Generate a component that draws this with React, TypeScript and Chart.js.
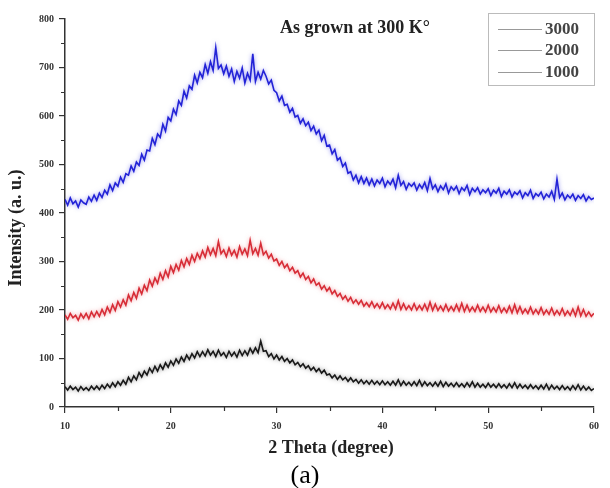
import React, { useEffect, useRef } from "react";
import { Chart, registerables } from "chart.js";

Chart.register(...registerables);

// 2-theta scan: 10° to 60° sampled every 0.25°
const THETA_START = 10;
const THETA_STEP = 0.25;

const SERIES_LABELS = ["3000", "2000", "1000"];
const SERIES_COLORS = ["rgb(35,35,215)", "rgb(215,45,55)", "rgb(25,25,25)"];
const SERIES_HALOS = ["rgba(60,60,230,0.55)", "rgba(230,80,90,0.55)", "rgba(60,60,60,0.5)"];

// 3000 (blue)
const I3000 = [
  428, 416, 431, 419, 425, 412, 427, 421, 418, 433, 424, 437, 426, 441, 432, 447,
  439, 458, 446, 462, 455, 474, 463, 481, 478, 497, 486, 505, 498, 521, 509, 530,
  528, 554, 541, 563, 556, 583, 569, 597, 590, 614, 603, 631, 622, 651, 637, 662,
  655, 684, 668, 690, 679, 706, 688, 712, 694, 741, 698, 705, 687, 703, 682, 697,
  671, 692, 678, 699, 668, 688, 674, 728, 671, 690, 676, 694, 682, 666, 674, 653,
  648, 631, 641, 622, 624, 608, 616, 598, 601, 585, 594, 580, 587, 570, 579, 563,
  571, 549, 560, 538, 540, 522, 531, 509, 514, 496, 503, 482, 485, 468, 478, 462,
  475, 461, 472, 458, 470, 456, 468, 461, 472, 454, 466, 459, 470, 452, 478, 457,
  465, 449, 461, 455, 462, 447, 459, 451, 463, 446, 471, 450, 458, 444, 456, 448,
  460, 441, 454, 447, 455, 440, 452, 446, 457, 438, 451, 444, 452, 439, 448, 442,
  450, 436, 447, 441, 451, 434, 445, 439, 448, 433, 443, 438, 446, 431, 442, 436,
  447, 430, 440, 435, 443, 429, 439, 433, 445, 428, 470, 432, 441, 427, 437, 431,
  439, 426, 436, 430, 438, 425, 434, 428, 431,
];

// 2000 (red)
const I2000 = [
  190, 181, 193, 184, 189, 179, 192, 183, 193, 182, 196, 186, 197, 187, 201, 190,
  206, 195, 211, 199, 217, 206, 221, 210, 231, 219, 236, 224, 245, 233, 251, 240,
  262, 249, 266, 255, 276, 263, 281, 268, 290, 277, 294, 282, 302, 289, 306, 294,
  313, 300, 317, 306, 322, 309, 329, 314, 327, 312, 341, 316, 324, 310, 328, 313,
  323, 309, 331, 315, 326, 312, 344, 316, 327, 313, 338, 314, 321, 307, 315, 301,
  305, 292, 300, 287, 294, 281, 288, 276, 281, 268, 276, 263, 269, 256, 264, 251,
  256, 243, 250, 239, 246, 233, 240, 228, 234, 222, 229, 218, 226, 214, 221, 212,
  220, 208, 215, 207, 217, 205, 213, 204, 215, 203, 211, 202, 214, 202, 219, 201,
  213, 201, 209, 200, 213, 200, 209, 200, 212, 199, 216, 199, 212, 199, 208, 198,
  211, 198, 207, 198, 211, 198, 214, 197, 210, 197, 206, 197, 210, 197, 206, 196,
  210, 196, 205, 196, 209, 195, 204, 195, 208, 194, 211, 194, 207, 193, 202, 193,
  206, 192, 201, 192, 205, 191, 200, 191, 204, 190, 199, 190, 203, 189, 198, 189,
  202, 188, 206, 188, 201, 187, 196, 187, 193,
];

// 1000 (black)
const I1000 = [
  42, 35, 43, 36, 41, 33, 42, 35, 40, 34, 43, 36, 43, 36, 45, 38,
  47, 40, 50, 42, 52, 45, 55, 47, 61, 52, 64, 56, 71, 62, 74, 66,
  80, 71, 84, 74, 87, 78, 91, 82, 95, 86, 99, 90, 103, 94, 107, 98,
  110, 101, 114, 104, 114, 105, 118, 107, 115, 104, 117, 106, 112, 102, 115, 105,
  113, 103, 117, 106, 116, 107, 121, 111, 122, 112, 136, 115, 116, 104, 110, 99,
  107, 97, 104, 94, 100, 91, 97, 87, 92, 83, 89, 80, 85, 76, 82, 73,
  79, 70, 76, 66, 68, 60, 66, 57, 64, 56, 61, 53, 60, 52, 57, 49,
  56, 48, 54, 47, 55, 47, 53, 46, 54, 46, 52, 45, 53, 45, 56, 44,
  53, 45, 51, 44, 52, 44, 55, 43, 52, 44, 50, 43, 51, 43, 53, 42,
  51, 43, 49, 42, 50, 42, 48, 41, 50, 42, 52, 41, 49, 41, 47, 40,
  49, 41, 47, 40, 48, 40, 46, 39, 48, 40, 50, 39, 47, 39, 45, 38,
  46, 38, 44, 37, 45, 37, 47, 36, 45, 37, 43, 36, 44, 36, 42, 35,
  44, 36, 46, 35, 43, 35, 41, 34, 38,
];

const X_MINOR = [15, 25, 35, 45, 55];
const Y_MINOR = [50, 150, 250, 350, 450, 550, 650, 750];

const ANNOTATION = "As grown at 300 K°";
const X_TITLE = "2 Theta (degree)";
const Y_TITLE = "Intensity (a. u.)";
const PANEL_LABEL = "(a)";

const SERIF = "'Liberation Serif', 'Times New Roman', serif";

function toPoints(values: number[]) {
  return values.map((v, i) => ({ x: THETA_START + i * THETA_STEP, y: v }));
}

const haloPlugin = {
  id: "halo",
  beforeDatasetDraw(chart: any, args: any) {
    const ctx = chart.ctx;
    ctx.save();
    ctx.shadowColor = SERIES_HALOS[args.index] || "rgba(0,0,0,0.4)";
    ctx.shadowBlur = 4;
  },
  afterDatasetDraw(chart: any) {
    chart.ctx.restore();
  },
};

const decorPlugin = {
  id: "decor",
  afterDraw(chart: any) {
    const ctx: CanvasRenderingContext2D = chart.ctx;
    const xs = chart.scales.x;
    const ys = chart.scales.y;
    const area = chart.chartArea;
    ctx.save();
    // minor ticks
    ctx.strokeStyle = "#333";
    ctx.lineWidth = 1.2;
    ctx.beginPath();
    for (const v of Y_MINOR) {
      const py = Math.round(ys.getPixelForValue(v)) + 0.5;
      ctx.moveTo(area.left, py);
      ctx.lineTo(area.left - 4, py);
    }
    for (const v of X_MINOR) {
      const px = Math.round(xs.getPixelForValue(v)) + 0.5;
      ctx.moveTo(px, area.bottom);
      ctx.lineTo(px, area.bottom + 4);
    }
    ctx.stroke();

    // axis titles
    ctx.fillStyle = "#222";
    ctx.textAlign = "center";
    ctx.textBaseline = "middle";
    ctx.font = `bold 18px ${SERIF}`;
    ctx.fillText(X_TITLE, 331, 448);
    ctx.save();
    ctx.translate(16, 228);
    ctx.rotate(-Math.PI / 2);
    ctx.fillText(Y_TITLE, 0, 0);
    ctx.restore();

    // annotation
    ctx.font = `bold 18px ${SERIF}`;
    ctx.fillText(ANNOTATION, 355, 28);

    // panel label
    ctx.fillStyle = "#000";
    ctx.font = `26px ${SERIF}`;
    ctx.fillText(PANEL_LABEL, 305, 476);

    // legend box
    ctx.strokeStyle = "#bbb";
    ctx.lineWidth = 1;
    ctx.strokeRect(488.5, 13.5, 106, 72);
    const rows = [29, 50, 72];
    ctx.font = `bold 17px ${SERIF}`;
    ctx.textAlign = "left";
    SERIES_LABELS.forEach((lab, i) => {
      ctx.strokeStyle = "#999";
      ctx.beginPath();
      ctx.moveTo(498, rows[i] + 0.5);
      ctx.lineTo(542, rows[i] + 0.5);
      ctx.stroke();
      ctx.fillStyle = "#444";
      ctx.fillText(lab, 545, rows[i] + 1);
    });
    ctx.restore();
  },
};

export default function App() {
  const ref = useRef<HTMLCanvasElement | null>(null);
  useEffect(() => {
    if (!ref.current) return;
    const tickFont = { family: SERIF, size: 10, weight: "bold" as const };
    const series = [I3000, I2000, I1000];
    const chart = new Chart(ref.current, {
      type: "line",
      data: {
        datasets: series.map((vals, i) => ({
          label: SERIES_LABELS[i],
          data: toPoints(vals),
          borderColor: SERIES_COLORS[i],
          borderWidth: 1.6,
          pointRadius: 0,
          tension: 0,
        })),
      },
      options: {
        animation: false,
        responsive: false,
        maintainAspectRatio: false,
        layout: { padding: { left: 30, right: 16, top: 19, bottom: 55 } },
        plugins: { legend: { display: false }, tooltip: { enabled: false } },
        scales: {
          x: {
            type: "linear",
            min: 10,
            max: 60,
            ticks: { stepSize: 10, font: tickFont, color: "#333", padding: 7, maxRotation: 0 },
            grid: { drawOnChartArea: false, drawTicks: true, tickLength: 6, color: "#333", lineWidth: 1.2 },
            border: { display: true, color: "#333", width: 1.5 },
            afterFit: (s: any) => { s.height = 26; },
          },
          y: {
            type: "linear",
            min: 0,
            max: 800,
            ticks: { stepSize: 100, font: tickFont, color: "#333", padding: 5 },
            grid: { drawOnChartArea: false, drawTicks: true, tickLength: 6, color: "#333", lineWidth: 1.2 },
            border: { display: true, color: "#333", width: 1.5 },
            afterFit: (s: any) => { s.width = 35; },
          },
        },
      },
      plugins: [haloPlugin, decorPlugin],
    });
    return () => chart.destroy();
  }, []);
  return (
    <div style={{ position: "absolute", left: 0, top: 0, width: 610, height: 488, background: "#fff" }}>
      <canvas ref={ref} width={610} height={488} style={{ width: 610, height: 488, display: "block" }} />
    </div>
  );
}
